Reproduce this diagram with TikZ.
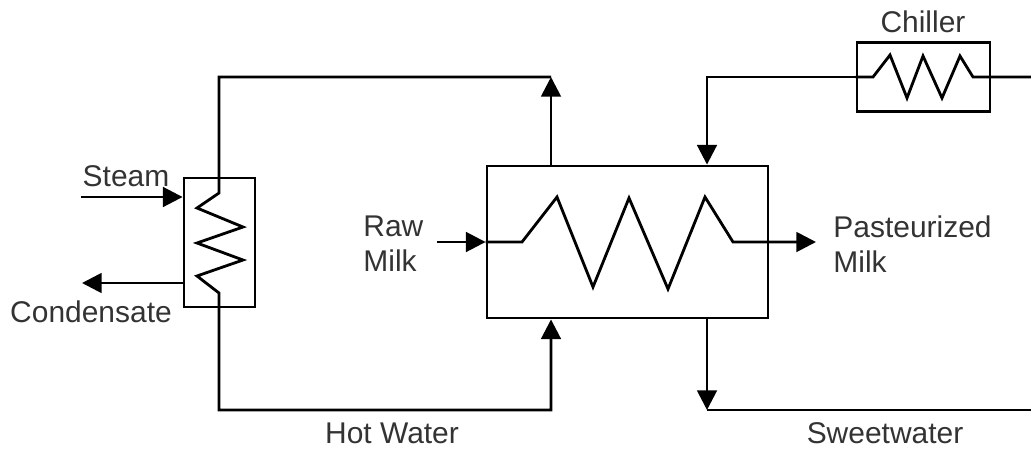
\documentclass[tikz,border=0pt]{standalone}
\usepackage{fontspec}
\setmainfont{Liberation Sans}
\usepackage{tikz}
\usetikzlibrary{calc,positioning}
\usetikzlibrary{arrows.meta}
\tikzset{>={Triangle[width=14pt,length=14pt]}}

\begin{document}
\begin{tikzpicture}[x=0.025cm,y=-0.025cm,line width=2pt]
      \tikzstyle{unit} = [draw=black, rectangle, line width=2pt, inner sep=0pt]
      \tikzstyle{lbl} = [text=black!80, inner sep=0pt, font=\fontsize{21.3pt}{25pt}\selectfont]

      \useasboundingbox (0,0) rectangle (1031,449);

      \node[unit, minimum width=1.775cm, minimum height=3.225cm] (heater) at (219.5,242.5) {};
      \node[unit, minimum width=7.025cm, minimum height=3.8cm] (hx) at (627.5,242) {};
      \node[unit, minimum width=3.325cm, minimum height=1.725cm] (chiller) at (923.5,77) {};

      \coordinate (steamin) at (81,197);
      \coordinate (condout) at (82,283);
      \coordinate (hwtop) at (551,77);
      \coordinate (hwret) at (551,410);
      \coordinate (rawin) at (437,242);
      \coordinate (pastout) at (816,242);
      \coordinate (cw) at (707,77);
      \coordinate (chillout) at (1031,77);
      \coordinate (swout) at (1031,410);

      % steam side
      \draw[->] (steamin) -- (steamin -| heater.west);
      \draw[->] (condout -| heater.west) -- (condout);

      % hot water loop
      \draw[->] (hwtop |- hx.north) -- (hwtop);
      \draw[->] (hwtop) -| (219,193) -- (197,208) -- (243,227) -- (197,243) -- (243,260)
            -- (197,276) -- (219,293) |- (hwret) -- (hwret |- hx.south);

      % milk
      \draw[->] (rawin) -- (hx.west);
      \draw[->] (hx.west) -- (522,242) -- (557,197) -- (593,287) -- (629,198) -- (668,289)
            -- (705,197) -- (733,242) -- (hx.east) -- (pastout);

      % sweetwater loop
      \draw (chillout) -- (chiller.east) -- (973,77) -- (960,56) -- (942,98) -- (923,56)
            -- (907,98) -- (890,55) -- (873,77) -- (chiller.west);
      \draw[->] (chiller.west) -| (cw |- hx.north);
      \draw[->] (cw |- hx.south) -- (cw |- swout);
      \draw (cw |- swout) -- (swout);

      \node[lbl] (steam) at (126,176) {Steam};
      \node[lbl] (cond) at (91,312) {Condensate};
      \node[lbl, anchor=west, align=left] (raw) at (362,244) {Raw\\Milk};
      \node[lbl, anchor=west, align=left] (past) at (832,244) {Pasteurized\\Milk};
      \node[lbl] (chill) at (923,22) {Chiller};
      \node[lbl] (hw) at (392,433) {Hot Water};
      \node[lbl] (sw) at (885,433) {Sweetwater};
\end{tikzpicture}
\end{document}
